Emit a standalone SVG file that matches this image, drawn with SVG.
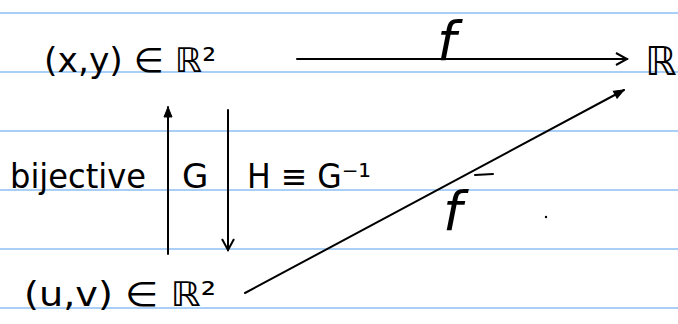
<svg xmlns="http://www.w3.org/2000/svg" width="678" height="324" viewBox="0 0 678 324">
<style>
.rule{stroke:#a9cff7;stroke-width:2}
.ink{stroke:#000;stroke-width:2;fill:none;stroke-linecap:round;stroke-linejoin:round}
.t{font-family:"DejaVu Sans","Liberation Sans",sans-serif;fill:#000;font-weight:normal}
</style>
<defs>
<marker id="open" markerWidth="14" markerHeight="14" refX="12" refY="7" orient="auto" markerUnits="userSpaceOnUse">
<path d="M1,1 L12,7 L1,13" fill="none" stroke="#000" stroke-width="2"/>
</marker>
<marker id="small" markerWidth="12" markerHeight="10" refX="11" refY="5" orient="auto" markerUnits="userSpaceOnUse">
<path d="M1,1 L11,5 L1,9 Z" fill="#000" stroke="#000" stroke-width="1"/>
</marker>
</defs>
<rect width="678" height="324" fill="#fff"/>
<g id="paper">
<line class="rule" x1="0" y1="13" x2="678" y2="13"/>
<line class="rule" x1="0" y1="72" x2="678" y2="72"/>
<line class="rule" x1="0" y1="131" x2="678" y2="131"/>
<line class="rule" x1="0" y1="190" x2="678" y2="190"/>
<line class="rule" x1="0" y1="249" x2="678" y2="249"/>
<line class="rule" x1="0" y1="308" x2="678" y2="308"/>
</g>
<g id="connectors">
<line class="ink" x1="297" y1="59" x2="627" y2="59" marker-end="url(#open)"/>
<line class="ink" x1="245" y1="293" x2="624" y2="90" marker-end="url(#small)"/>
<line class="ink" x1="168" y1="254" x2="168" y2="107" marker-end="url(#small)"/>
<line class="ink" x1="228" y1="110" x2="228" y2="250" marker-end="url(#open)"/>
</g>
<g id="node-xy">
<text class="t" x="44" y="72" font-size="34" textLength="172" lengthAdjust="spacingAndGlyphs">(x,y) ∈ ℝ²</text>
</g>
<g id="node-R">
<text class="t" x="645" y="75" font-size="40">ℝ</text>
</g>
<g id="node-uv">
<text class="t" x="24" y="306" font-size="34" textLength="192" lengthAdjust="spacingAndGlyphs">(u,v) ∈ ℝ²</text>
</g>
<g id="labels">
<text class="t" x="437" y="60" font-size="54" font-style="italic">f</text>
<text class="t" x="10" y="188" font-size="34" textLength="136" lengthAdjust="spacingAndGlyphs">bijective</text>
<text class="t" x="182" y="188" font-size="34">G</text>
<text class="t" x="247" y="188" font-size="34" textLength="124" lengthAdjust="spacingAndGlyphs">H ≡ G⁻¹</text>
<text class="t" x="443" y="230" font-size="54" font-style="italic">f</text>
<line class="ink" x1="475" y1="175" x2="493" y2="174"/>
<circle cx="546" cy="217" r="1.2" fill="#000"/>
</g>
</svg>
